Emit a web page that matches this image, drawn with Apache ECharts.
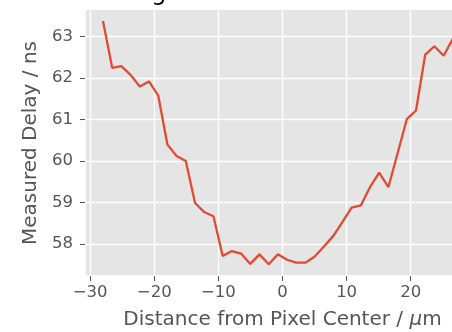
<!DOCTYPE html>
<html>
<head>
<meta charset="utf-8">
<script src="https://cdn.jsdelivr.net/npm/echarts@6/dist/echarts.min.js"></script>
<style>
  html, body { margin: 0; padding: 0; background: #fff; overflow: hidden; }
  #chart { width: 540px; height: 332px; }
</style>
</head>
<body>
<div id="chart"></div>
<script>
// Scan positions across the pixel (µm)
const positions = [
  -28.00, -26.56, -25.13, -23.69, -22.26, -20.82, -19.38, -17.95, -16.51, -15.08,
  -13.64, -12.21, -10.77, -9.33, -7.90, -6.46, -5.03, -3.59, -2.15, -0.72,
  0.72, 2.15, 3.59, 5.03, 6.46, 7.90, 9.33, 10.77, 12.21, 13.64,
  15.08, 16.51, 17.95, 19.38, 20.82, 22.26, 23.69, 25.13, 26.56, 28.00
];
// Measured delay at each position (ns)
const delays = [
  63.38, 62.25, 62.29, 62.08, 61.80, 61.92, 61.58, 60.40, 60.12, 60.00,
  58.99, 58.77, 58.67, 57.71, 57.83, 57.77, 57.52, 57.75, 57.51, 57.75,
  57.62, 57.55, 57.55, 57.70, 57.94, 58.19, 58.53, 58.88, 58.93, 59.37,
  59.72, 59.37, 60.19, 61.01, 61.22, 62.57, 62.77, 62.54, 62.95, 63.10
];
const xTicks = [-30, -20, -10, 0, 10, 20, 30];
const yTicks = [58, 59, 60, 61, 62, 63];

const titleText = 'Integral Pixel Across Scan Line';
const xName = 'Distance from Pixel Center / ';
const yName = 'Measured Delay / ns';

const FONT = 'DejaVu Sans';
const TICK_GREY = '#555555';
const minus = v => (v < 0 ? '\u2212' + Math.abs(v) : String(v));

// white ggplot-style grid lines, placed at the tick values
const gridLines = [
  ...xTicks.map(v => ({ xAxis: v })),
  ...yTicks.map(v => ({ yAxis: v }))
];

const chart = echarts.init(document.getElementById('chart'), null, { renderer: 'canvas' });
chart.setOption({
  animation: false,
  backgroundColor: '#ffffff',
  title: {
    text: titleText,
    left: 282.5,
    top: -23,
    textAlign: 'center',
    textStyle: { fontFamily: FONT, fontSize: 24, fontWeight: 'normal', color: '#000' }
  },
  grid: {
    left: 85, top: 10, width: 395, height: 266,
    outerBoundsMode: 'none',
    containLabel: false,
    show: true, backgroundColor: '#E5E5E5', borderWidth: 0
  },
  xAxis: {
    type: 'value',
    min: -30.8, max: 30.8,
    name: xName + '{i|\u03bc}m',
    nameLocation: 'middle',
    nameGap: 34,
    nameTextStyle: {
      fontFamily: FONT, fontSize: 20, color: TICK_GREY,
      rich: { i: { fontFamily: FONT, fontSize: 20, fontStyle: 'italic', color: TICK_GREY } }
    },
    axisLine: { show: true, onZero: false, lineStyle: { color: '#ffffff', width: 1.5 } },
    axisTick: { show: true, length: 5, customValues: xTicks, lineStyle: { color: TICK_GREY, width: 1 } },
    axisLabel: {
      customValues: xTicks, formatter: minus, margin: 8,
      fontFamily: FONT, fontSize: 16.5, color: TICK_GREY
    },
    splitLine: { show: false }
  },
  yAxis: {
    type: 'value',
    min: 57.228, max: 63.644,
    name: yName,
    nameLocation: 'middle',
    nameGap: 43,
    nameTextStyle: { fontFamily: FONT, fontSize: 20, color: TICK_GREY },
    axisLine: { show: true, onZero: false, lineStyle: { color: '#ffffff', width: 1.5 } },
    axisTick: { show: true, length: 5, customValues: yTicks, lineStyle: { color: TICK_GREY, width: 1 } },
    axisLabel: {
      customValues: yTicks, margin: 12,
      fontFamily: FONT, fontSize: 16.5, color: TICK_GREY
    },
    splitLine: { show: false }
  },
  series: [
    {
      // carries the background grid lines only
      type: 'line',
      data: [],
      z: 1,
      silent: true,
      markLine: {
        z: 1,
        silent: true,
        symbol: 'none',
        label: { show: false },
        lineStyle: { color: '#ffffff', width: 1.3, type: 'solid' },
        emphasis: { disabled: true },
        data: gridLines
      }
    },
    {
      type: 'line',
      z: 3,
      data: positions.map((x, i) => [x, delays[i]]),
      showSymbol: false,
      lineStyle: { color: '#E24A33', width: 2.3 },
      clip: true
    }
  ]
});
</script>
</body>
</html>
